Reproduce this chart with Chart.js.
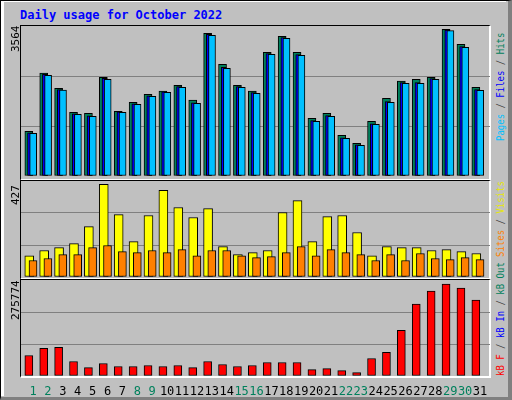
<!DOCTYPE html>
<html><head><meta charset="utf-8">
<script src="https://cdn.jsdelivr.net/npm/chart.js@4"></script>
<style>
body{margin:0;background:#c0c0c0;font-family:"DejaVu Sans Mono",monospace;}
#frame{position:absolute;left:0;top:0;width:512px;height:400px;box-sizing:border-box;border-top:1px solid #000;border-left:1px solid #000;border-right:4px solid #808080;border-bottom:3px solid #808080;}
#inner{position:absolute;left:1px;top:1px;width:505px;height:395px;box-sizing:border-box;border-top:1px solid #fff;border-left:3px solid #fff;}
.panel{position:absolute;left:20px;width:471px;box-sizing:border-box;border-top:1px solid #000;border-left:1px solid #000;border-right:2px solid #fff;border-bottom:2px solid #fff;}
canvas{position:absolute;}
.rot{position:absolute;transform-origin:0 0;transform:rotate(-90deg);white-space:nowrap;font-size:11px;line-height:12px;}
.rr{position:absolute;transform-origin:0 0;transform:rotate(-90deg) scaleY(1.25);white-space:nowrap;font-size:9px;line-height:10px;}
#title{position:absolute;left:20px;top:8px;font-size:12px;font-weight:bold;color:#0000ff;}
</style></head><body>
<div id="frame"></div><div id="inner"></div>
<div id="title">Daily usage for October 2022</div>
<div class="panel" style="top:25px;height:156px"></div>
<div class="panel" style="top:180px;height:100px"></div>
<div class="panel" style="top:279px;height:99px"></div>
<canvas id="c1" width="469" height="149" style="left:21px;top:27px"></canvas>
<canvas id="c2" width="469" height="96" style="left:21px;top:181px"></canvas>
<canvas id="c3" width="469" height="116" style="left:21px;top:280px"></canvas>
<div class="rot" style="left:10px;top:52px">3564</div>
<div class="rot" style="left:10px;top:205px">427</div>
<div class="rot" style="left:10px;top:320px">275774</div>
<div class="rr" style="left:494px;top:141px"><span style="color:#00c0ff">Pages</span><span style="color:#404040"> / </span><span style="color:#0000ff">Files</span><span style="color:#404040"> / </span><span style="color:#00805c">Hits</span></div>
<div class="rr" style="left:494px;top:257px"><span style="color:#ff8000">Sites</span><span style="color:#404040"> / </span><span style="color:#e8e800">Visits</span></div>
<div class="rr" style="left:494px;top:376px"><span style="color:#ff0000">kB F</span><span style="color:#404040"> / </span><span style="color:#0000ff">kB In</span><span style="color:#404040"> / </span><span style="color:#00805c">kB Out</span></div>
<script>
const days=[1,2,3,4,5,6,7,8,9,10,11,12,13,14,15,16,17,18,19,20,21,22,23,24,25,26,27,28,29,30,31];
const weekend=[1,2,8,9,15,16,22,23,29,30];
const hits=[1086,2503,2131,1548,1524,2398,1572,1791,1985,2066,2204,1847,3468,2714,2204,2066,3006,3395,3006,1402,1524,989,795,1329,1888,2309,2350,2398,3564,3200,2155];
const files=[1050,2470,2100,1510,1460,2370,1560,1755,1950,2045,2170,1780,3440,2640,2170,2025,2975,3365,2950,1345,1465,930,755,1270,1810,2270,2270,2365,3545,3145,2100];
const pages=[1038,2447,2090,1499,1451,2350,1548,1742,1937,2034,2155,1767,3419,2617,2155,2010,2957,3346,2933,1329,1451,916,746,1256,1791,2253,2253,2350,3531,3127,2083];
const visits=[98,122,135,154,232,427,287,163,283,399,320,274,315,140,103,112,122,297,352,163,278,283,205,98,140,135,135,122,126,117,108];
const sites=[76,85,103,103,135,145,117,112,122,112,126,98,122,122,98,89,94,112,140,98,126,112,103,76,103,76,108,85,80,89,80];
const kbytes=[61500,82700,85700,43400,25300,37400,28400,28400,31400,28400,31400,25300,43400,34400,28400,31400,40400,40400,40400,19300,22300,16300,10300,52500,70600,137000,215400,254600,275774,263700,227500];
const XMIN=0.195,XMAX=31.67;
function ds(vals,off,w,color){return{data:vals.map((v,i)=>({x:days[i]+off,y:v})),backgroundColor:color,borderColor:'#000',borderWidth:1,barThickness:w,grouped:false,borderSkipped:false};}
function make(id,datasets,max,withX){
  const xs={type:'linear',min:XMIN,max:XMAX,offset:false,display:withX,grid:{display:false},border:{display:false},
    afterBuildTicks:s=>{s.ticks=days.map(d=>({value:d}));},
    ticks:{autoSkip:false,maxRotation:0,padding:1,font:{family:'DejaVu Sans Mono',size:12},
      color:c=>weekend.includes(c.tick.value)?'#00805c':'#000',callback:v=>String(v)}};
  if(withX) xs.afterFit=s=>{s.height=20;};
  return new Chart(document.getElementById(id),{type:'bar',data:{datasets},
    options:{responsive:false,animation:false,devicePixelRatio:1,layout:{padding:0},
      plugins:{legend:{display:false},tooltip:{enabled:false}},
      scales:{
        x:xs,
        y:{min:0,max:max,display:true,border:{display:false},
          afterBuildTicks:s=>{s.ticks=[0,max/3,2*max/3,max].map(v=>({value:v}));},
          afterFit:s=>{s.width=0;},
          ticks:{display:false},
          grid:{drawTicks:false,color:c=>(c.index===1||c.index===2)?'#808080':'rgba(0,0,0,0)'}}
      }}});
}
make('c1',[ds(pages,0.013,7,'#00c0ff'),ds(files,-0.2,5,'#0000ff'),ds(hits,-0.28,8,'#00805c')],3620,false);
make('c2',[ds(sites,0,8,'#ff8000'),ds(visits,-0.25,9,'#ffff00')],442,false);
make('c3',[ds(kbytes,-0.28,8,'#ff0000')],287800,true);
</script></body></html>
